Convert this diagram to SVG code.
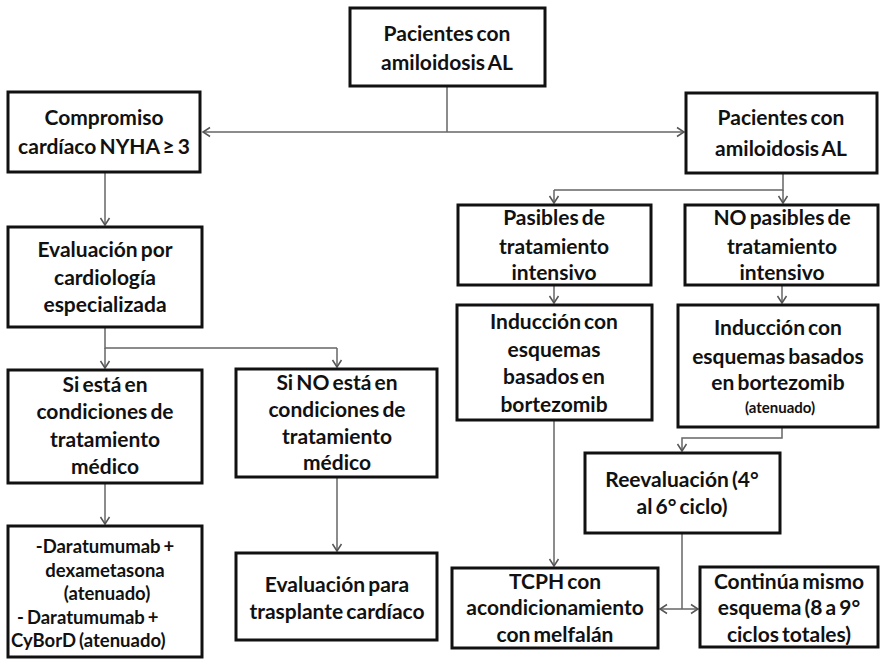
<svg xmlns="http://www.w3.org/2000/svg" width="885" height="662" viewBox="0 0 885 662">
<defs>
<style>
.box{fill:#fff;stroke:#111;stroke-width:3}
.t{font-family:Lato,"Liberation Sans",sans-serif;font-weight:700;font-size:21px;text-anchor:middle;fill:#111;word-spacing:-2px}
.d{font-size:18.5px;word-spacing:-1.5px}
.s{font-size:15px}
.l{text-anchor:start}
.c{fill:none;stroke:#666;stroke-width:1.5}
</style>
<marker id="ah" markerUnits="userSpaceOnUse" markerWidth="12" markerHeight="12" refX="10" refY="6" orient="auto">
<path d="M3,1.5 L10,6 L3,10.5" fill="none" stroke="#555" stroke-width="1.5"/>
</marker>
</defs>
<rect width="885" height="662" fill="#fff"/>
<g id="connectors">
<path class="c" d="M447,86 V132"/>
<path class="c" d="M447,132 H203" marker-end="url(#ah)"/>
<path class="c" d="M447,132 H684" marker-end="url(#ah)"/>
<path class="c" d="M105,172 V225" marker-end="url(#ah)"/>
<path class="c" d="M105,327 V348 H337"/>
<path class="c" d="M105,348 V368" marker-end="url(#ah)"/>
<path class="c" d="M337,348 V367" marker-end="url(#ah)"/>
<path class="c" d="M105,483 V524" marker-end="url(#ah)"/>
<path class="c" d="M337,477 V551" marker-end="url(#ah)"/>
<path class="c" d="M783,173 V190 H554"/>
<path class="c" d="M554,190 V203" marker-end="url(#ah)"/>
<path class="c" d="M783,190 V203" marker-end="url(#ah)"/>
<path class="c" d="M554,285 V303" marker-end="url(#ah)"/>
<path class="c" d="M782,285 V303" marker-end="url(#ah)"/>
<path class="c" d="M554,420 V566" marker-end="url(#ah)"/>
<path class="c" d="M782,427 V438 H682 V451" marker-end="url(#ah)"/>
<path class="c" d="M682,533 V609"/>
<path class="c" d="M682,609 H660" marker-end="url(#ah)"/>
<path class="c" d="M682,609 H698" marker-end="url(#ah)"/>
</g>
<g id="n-top">
<rect class="box" x="350" y="8" width="195" height="78"/>
<text class="t" x="447" y="41">Pacientes con</text>
<text class="t" x="447" y="70">amiloidosis AL</text>
</g>
<g id="n-compromiso">
<rect class="box" x="8" y="92" width="192" height="80"/>
<text class="t" x="104" y="125">Compromiso</text>
<text class="t" x="104" y="154">cardíaco NYHA ≥ 3</text>
</g>
<g id="n-pacientes2">
<rect class="box" x="686" y="93" width="191" height="80"/>
<text class="t" x="781" y="125">Pacientes con</text>
<text class="t" x="781" y="156">amiloidosis AL</text>
</g>
<g id="n-evaluacion">
<rect class="box" x="8" y="227" width="194" height="100"/>
<text class="t" x="105" y="257">Evaluación por</text>
<text class="t" x="105" y="285">cardiología</text>
<text class="t" x="105" y="312">especializada</text>
</g>
<g id="n-siesta">
<rect class="box" x="8" y="370" width="194" height="113"/>
<text class="t" x="105" y="392">Si está en</text>
<text class="t" x="105" y="419">condiciones de</text>
<text class="t" x="105" y="447">tratamiento</text>
<text class="t" x="105" y="474">médico</text>
</g>
<g id="n-sino">
<rect class="box" x="236" y="369" width="201" height="108"/>
<text class="t" x="337" y="390">Si NO está en</text>
<text class="t" x="337" y="417">condiciones de</text>
<text class="t" x="337" y="444">tratamiento</text>
<text class="t" x="337" y="470">médico</text>
</g>
<g id="n-dara">
<rect class="box" x="8" y="526" width="194" height="131"/>
<text class="t d" x="105" y="553">-Daratumumab +</text>
<text class="t d" x="105" y="577">dexametasona</text>
<text class="t d" x="107" y="600">(atenuado)</text>
<text class="t d l" x="17" y="624">- Daratumumab +</text>
<text class="t d l" x="11" y="647">CyBorD (atenuado)</text>
</g>
<g id="n-trasplante">
<rect class="box" x="236" y="553" width="201" height="87"/>
<text class="t" x="337" y="592">Evaluación para</text>
<text class="t" x="337" y="619">trasplante cardíaco</text>
</g>
<g id="n-pasibles">
<rect class="box" x="458" y="205" width="193" height="80"/>
<text class="t" x="554" y="225">Pasibles de</text>
<text class="t" x="554" y="254">tratamiento</text>
<text class="t" x="554" y="280">intensivo</text>
</g>
<g id="n-nopasibles">
<rect class="box" x="685" y="205" width="193" height="80"/>
<text class="t" x="782" y="225">NO pasibles de</text>
<text class="t" x="782" y="254">tratamiento</text>
<text class="t" x="782" y="280">intensivo</text>
</g>
<g id="n-induccion1">
<rect class="box" x="457" y="305" width="195" height="115"/>
<text class="t" x="554" y="329">Inducción con</text>
<text class="t" x="554" y="357">esquemas</text>
<text class="t" x="554" y="384">basados en</text>
<text class="t" x="554" y="412">bortezomib</text>
</g>
<g id="n-induccion2">
<rect class="box" x="678" y="305" width="200" height="122"/>
<text class="t" x="778" y="335">Inducción con</text>
<text class="t" x="778" y="364">esquemas basados</text>
<text class="t" x="778" y="390">en bortezomib</text>
<text class="t s" x="780" y="413">(atenuado)</text>
</g>
<g id="n-reevaluacion">
<rect class="box" x="585" y="453" width="195" height="80"/>
<text class="t" x="682" y="487">Reevaluación (4°</text>
<text class="t" x="682" y="514">al 6° ciclo)</text>
</g>
<g id="n-tcph">
<rect class="box" x="452" y="568" width="206" height="80"/>
<text class="t" x="555" y="589">TCPH con</text>
<text class="t" x="555" y="615">acondicionamiento</text>
<text class="t" x="555" y="642">con melfalán</text>
</g>
<g id="n-continua">
<rect class="box" x="700" y="567" width="178" height="80"/>
<text class="t" x="789" y="589">Continúa mismo</text>
<text class="t" x="789" y="615">esquema (8 a 9°</text>
<text class="t" x="789" y="642">ciclos totales)</text>
</g>
</svg>
